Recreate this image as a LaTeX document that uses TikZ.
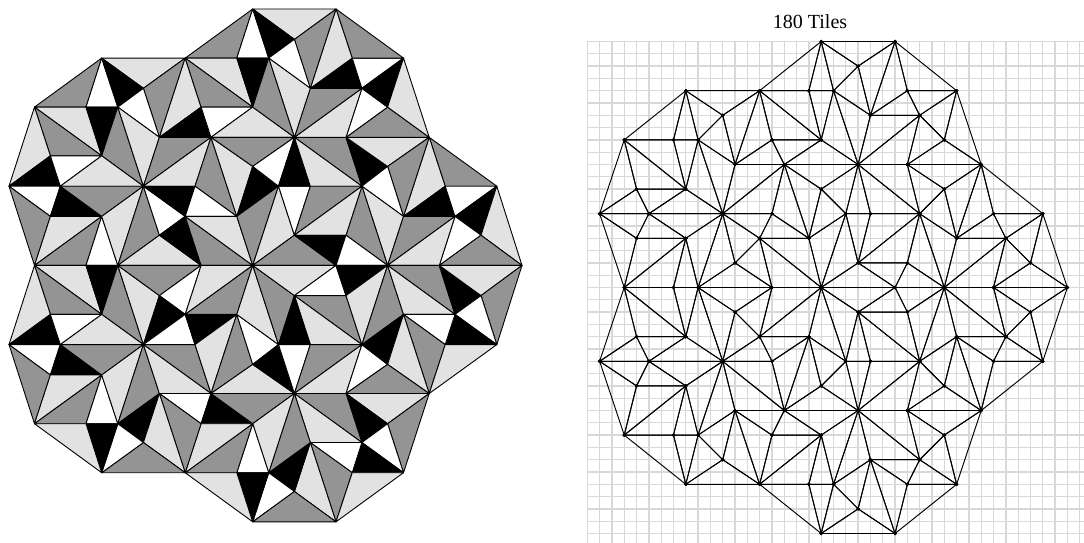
\documentclass[tikz,border=0pt]{standalone}
\usepackage{fontspec}
\setmainfont{Liberation Serif}
\usepackage{tikz}
\definecolor{tileg}{RGB}{148, 148, 148}
\definecolor{tilel}{RGB}{226, 226, 226}
\definecolor{tilek}{RGB}{0, 0, 0}
\definecolor{tilew}{RGB}{255, 255, 255}
\definecolor{gridgray}{RGB}{216, 216, 216}
\newcommand{\tilelist}{%
19-0/14-4/18-4/g, 19-0/18-4/20-4/w, 8-4/14-4/11-6/l, 3-8/8-4/7-8/g, 8-4/7-8/9-8/w, 8-4/9-8/11-6/k,
11-6/14-4/12-10/g, 14-4/12-10/15-8/l, 14-4/18-4/19-8/l, 14-4/15-8/19-8/g, 18-4/20-4/19-8/k, 9-8/11-6/12-10/w,
12-10/15-8/16-10/k, 15-8/19-8/16-10/w, 16-10/19-8/22-10/l, 3-8/7-8/8-12/l, 3-8/8-12/4-12/g, 7-8/9-8/8-12/k,
9-8/8-12/11-14/g, 9-8/12-10/11-14/l, 12-10/16-10/11-14/g, 16-10/11-14/15-14/l, 16-10/15-14/18-16/g, 16-10/19-12/18-16/l,
16-10/22-10/19-12/g, 19-12/21-14/18-16/k, 3-8/4-12/1-14/l, 4-12/5-14/1-14/k, 4-12/8-12/5-14/w, 8-12/5-14/11-14/l,
1-14/5-14/4-16/w, 1-14/4-16/3-20/g, 5-14/4-16/8-16/k, 5-14/11-14/8-16/g, 4-16/8-16/3-20/l, 3-20/8-16/7-20/g,
8-16/7-20/9-20/w, 8-16/11-14/9-20/l, 11-14/9-20/12-18/g, 9-20/12-18/15-20/l, 11-14/14-16/12-18/w, 11-14/15-14/14-16/k,
15-14/14-16/18-16/w, 14-16/12-18/15-20/k, 14-16/15-20/19-20/g, 14-16/18-16/19-20/l, 18-16/21-14/19-20/g, 21-14/19-20/22-18/l,
21-14/23-14/22-18/w, 19-20/22-18/25-20/g, 19-12/22-10/21-14/w, 22-10/21-14/23-14/k, 22-10/26-10/27-14/g, 22-10/23-14/27-14/l,
26-10/27-14/29-12/k, 26-10/29-12/32-10/l, 26-10/32-10/29-8/g, 26-10/27-6/29-8/w, 22-10/26-10/27-6/l, 22-10/23-6/27-6/g,
23-6/26-4/27-6/k, 26-4/27-6/30-4/w, 27-6/30-4/29-8/k, 30-4/29-8/32-10/l, 25-0/26-4/30-4/g, 25-0/23-6/26-4/l,
25-0/22-2/23-6/g, 19-0/25-0/22-2/l, 19-0/22-2/20-4/k, 20-4/22-2/23-6/w, 20-4/23-6/22-10/l, 20-4/19-8/22-10/g,
32-10/33-14/37-14/g, 32-10/30-16/33-14/l, 32-10/29-12/30-16/g, 27-14/29-12/30-16/w, 27-14/30-16/29-20/l, 27-14/26-18/29-20/g,
23-14/27-14/22-18/g, 22-18/27-14/26-18/l, 22-18/26-18/25-20/k, 26-18/25-20/29-20/w, 30-16/33-14/34-16/k, 33-14/37-14/34-16/w,
37-14/34-16/36-18/k, 37-14/36-18/39-20/l, 34-16/36-18/33-20/w, 36-18/33-20/39-20/g, 30-16/34-16/29-20/g, 29-20/34-16/33-20/l,
3-20/7-20/8-24/l, 3-20/8-24/4-24/g, 7-20/9-20/8-24/k, 9-20/8-24/11-26/g, 9-20/12-22/11-26/l, 9-20/15-20/12-22/g,
12-22/15-20/14-24/w, 12-22/14-24/11-26/k, 11-26/14-24/15-26/w, 14-24/18-24/15-26/k, 15-20/14-24/19-20/l, 14-24/18-24/19-20/g,
3-20/4-24/1-26/l, 4-24/5-26/1-26/k, 4-24/8-24/5-26/w, 8-24/5-26/11-26/l, 1-26/5-26/4-28/w, 1-26/4-28/3-32/g,
5-26/4-28/8-28/k, 5-26/11-26/8-28/g, 4-28/8-28/3-32/l, 3-32/8-28/7-32/g, 8-28/7-32/9-32/w, 8-28/11-26/9-32/l,
11-26/9-32/12-30/g, 9-32/12-30/11-34/k, 11-26/15-26/16-30/g, 11-26/16-30/12-30/l, 12-30/16-30/15-32/w, 16-30/15-32/19-32/k,
16-30/19-32/22-30/g, 15-26/18-24/16-30/l, 18-24/16-30/19-28/g, 16-30/19-28/22-30/l, 18-24/19-28/21-26/w, 19-28/21-26/22-30/k,
18-24/19-20/21-26/l, 19-20/22-22/21-26/g, 19-20/25-20/22-22/l, 22-22/25-20/26-22/w, 25-20/26-22/29-20/k, 22-22/26-22/27-26/g,
22-22/23-26/27-26/l, 22-22/21-26/23-26/k, 21-26/23-26/22-30/w, 23-26/27-26/22-30/g, 27-26/22-30/26-30/l, 27-26/26-30/29-28/w,
26-22/29-20/27-26/l, 29-20/27-26/30-24/g, 27-26/30-24/29-28/k, 29-20/33-20/34-24/g, 29-20/34-24/30-24/l, 33-20/36-22/34-24/k,
33-20/39-20/36-22/l, 39-20/36-22/37-26/g, 36-22/34-24/37-26/w, 34-24/33-26/37-26/k, 30-24/34-24/33-26/w, 30-24/33-26/32-30/g,
33-26/37-26/32-30/l, 30-24/29-28/32-30/l, 29-28/26-30/32-30/g, 26-30/32-30/29-32/l, 26-30/29-32/27-34/k, 22-30/26-30/27-34/g,
22-30/27-34/23-34/l, 32-30/29-32/30-36/g, 29-32/27-34/30-36/w, 27-34/26-36/30-36/k, 23-34/27-34/26-36/w, 23-34/26-36/25-40/g,
26-36/30-36/25-40/l, 23-34/22-38/25-40/l, 23-34/20-36/22-38/k, 22-30/23-34/20-36/g, 22-30/19-32/20-36/l, 20-36/22-38/19-40/w,
22-38/25-40/19-40/g, 19-32/20-36/18-36/w, 18-36/20-36/19-40/k, 14-36/18-36/19-32/g, 14-36/15-32/19-32/l, 12-30/15-32/14-36/g,
12-30/11-34/14-36/l, 11-34/8-36/14-36/g, 9-32/11-34/8-36/w, 7-32/9-32/8-36/k, 3-32/7-32/8-36/l, 14-36/18-36/19-40/l}

\begin{document}
\begin{tikzpicture}[
    x=1pt, y=-1pt,
    tile/.style={draw=black, line width=0.9pt, line join=round},
    edge/.style={draw=black, line width=0.95pt, line join=round},
    gridline/.style={draw=gridgray, line width=1.3pt},
    vertex/.style={circle, fill=black, inner sep=0pt, minimum size=3.4pt},
]
\useasboundingbox (0,0) rectangle (1084,543);

% Grid
\begin{scope}
\clip (0,0) rectangle (1084,543);
\foreach \k in {0,...,40} {
    \draw[gridline] ({587.3+12.31*\k},41.5) -- ({587.3+12.31*\k},543);
    \draw[gridline] (587.3,{41.5+12.3*\k}) -- (1084,{41.5+12.3*\k});
}
\end{scope}

% Vertices, upper half and its mirror image
\foreach \i/\r/\px/\py in {
    19/0/252.7/9, 25/0/336/9, 22/2/294.4/39.3,
    8/4/101.7/58.1, 14/4/185.2/58.1, 18/4/236.8/58.1, 20/4/268.7/58.1, 26/4/352.2/58.1, 30/4/403.5/58.1,
    11/6/143.4/88.3, 23/6/310.3/88.3, 27/6/361.9/88.3,
    3/8/34.5/107.1, 7/8/86/107.1, 9/8/117.8/107.1, 15/8/201.1/107.1, 19/8/252.7/107.1, 29/8/387.6/107.1,
    12/10/159.4/137.3, 16/10/211/137.3, 22/10/294.4/137.3, 26/10/346/137.3, 32/10/429.2/137.3,
    4/12/50.4/155.8, 8/12/101.7/155.8, 19/12/252.7/166.4, 29/12/387.6/166.4,
    1/14/9/186.2, 5/14/60.3/186.2, 11/14/143.4/186.2, 15/14/195/186.2, 21/14/278.5/186.2, 23/14/310.3/186.2, 27/14/361.9/186.2, 33/14/445.2/186.2, 37/14/496.8/186.2,
    4/16/50.4/216.4, 8/16/101.7/216.4, 14/16/185.2/216.4, 18/16/236.8/216.4, 30/16/403.5/216.4, 34/16/455/216.4,
    12/18/159.4/235.2, 22/18/294.4/235.2, 26/18/346/235.2, 36/18/481/235.2,
    3/20/34.5/265.4, 7/20/86/265.4, 9/20/117.8/265.4, 15/20/201.1/265.4, 19/20/252.7/265.4, 25/20/336/265.4, 29/20/387.6/265.4, 33/20/439.3/265.4, 39/20/522/265.4} {
    \pgfmathtruncatemacro{\m}{40-\r}
    \coordinate (a\i-\r) at (\px,\py);
    \coordinate (a\i-\m) at (\px,{530.8-\py});
    \coordinate (b\i-\r) at ({587.3+12.31*\i},{41.5+12.3*\r});
    \coordinate (b\i-\m) at ({587.3+12.31*\i},{41.5+12.3*\m});
}

% Tiles
\foreach \a/\b/\c/\col in \tilelist {
    \draw[tile, fill=tile\col] (a\a) -- (a\b) -- (a\c) -- cycle;
    \draw[edge] (b\a) -- (b\b) -- (b\c) -- cycle;
}

% Dots
\foreach \a/\b/\c/\col in \tilelist {
    \node[vertex] at (b\a) {};
    \node[vertex] at (b\b) {};
    \node[vertex] at (b\c) {};
}

% Title
\node[anchor=base west, inner sep=0pt, font=\fontsize{20}{24}\selectfont] (title) at (772.7,29) {180 Tiles};
\end{tikzpicture}
\end{document}
